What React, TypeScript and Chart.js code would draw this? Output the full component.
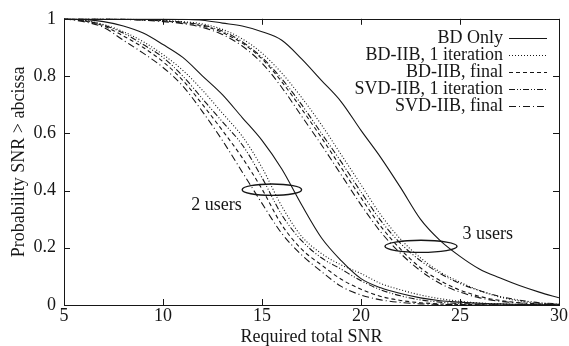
import React, { useEffect, useRef } from "react";
import { Chart, registerables } from "chart.js";

Chart.register(...registerables);

// Required total SNR (x)
const snrValues = [5, 6, 7, 8, 9, 10, 11, 12, 13, 14, 15, 16, 17, 18, 19, 20, 21, 22, 23, 24, 25, 26, 27, 28, 29, 30];

// 2 users
const bdOnly2 = [1, 0.998, 0.99, 0.975, 0.95, 0.91, 0.865, 0.8, 0.735, 0.655, 0.575, 0.475, 0.35, 0.235, 0.155, 0.092, 0.06, 0.04, 0.025, 0.015, 0.01, 0.006, 0.004, 0.002, 0.001, 0.0005];
const bdIibIter2 = [1, 0.995, 0.98, 0.955, 0.92, 0.875, 0.82, 0.75, 0.67, 0.59, 0.48, 0.345, 0.24, 0.18, 0.14, 0.11, 0.075, 0.053, 0.035, 0.022, 0.013, 0.007, 0.004, 0.002, 0.001, 0];
const bdIibFinal2 = [1, 0.993, 0.975, 0.94, 0.9, 0.85, 0.785, 0.7, 0.61, 0.515, 0.405, 0.28, 0.195, 0.14, 0.09, 0.055, 0.03, 0.016, 0.008, 0.004, 0.002, 0.001, 0, 0, 0, 0];
const svdIibIter2 = [1, 0.994, 0.978, 0.95, 0.91, 0.865, 0.8, 0.72, 0.64, 0.56, 0.445, 0.315, 0.225, 0.165, 0.125, 0.085, 0.053, 0.032, 0.018, 0.01, 0.005, 0.003, 0.001, 0, 0, 0];
const svdIibFinal2 = [1, 0.99, 0.97, 0.925, 0.88, 0.83, 0.765, 0.675, 0.575, 0.465, 0.355, 0.25, 0.175, 0.117, 0.065, 0.035, 0.018, 0.009, 0.004, 0.002, 0.001, 0, 0, 0, 0, 0];

// 3 users
const bdOnly3 = [1, 1, 1, 1, 1, 1, 0.998, 0.995, 0.985, 0.975, 0.955, 0.925, 0.86, 0.785, 0.71, 0.61, 0.515, 0.41, 0.3, 0.225, 0.17, 0.125, 0.095, 0.068, 0.045, 0.025];
const bdIibIter3 = [1, 1, 1, 0.999, 0.997, 0.994, 0.99, 0.982, 0.963, 0.93, 0.88, 0.81, 0.725, 0.63, 0.525, 0.42, 0.315, 0.23, 0.165, 0.115, 0.08, 0.05, 0.028, 0.014, 0.006, 0.003];
const bdIibFinal3 = [1, 1, 1, 0.999, 0.996, 0.992, 0.986, 0.975, 0.952, 0.915, 0.86, 0.78, 0.685, 0.585, 0.48, 0.375, 0.275, 0.195, 0.13, 0.085, 0.052, 0.03, 0.016, 0.008, 0.004, 0.002];
const svdIibIter3 = [1, 1, 1, 0.999, 0.996, 0.993, 0.988, 0.978, 0.957, 0.92, 0.865, 0.79, 0.7, 0.6, 0.5, 0.395, 0.295, 0.215, 0.155, 0.11, 0.075, 0.05, 0.03, 0.017, 0.008, 0.004];
const svdIibFinal3 = [1, 1, 1, 0.998, 0.995, 0.99, 0.983, 0.97, 0.945, 0.905, 0.845, 0.76, 0.66, 0.56, 0.455, 0.35, 0.255, 0.18, 0.12, 0.075, 0.045, 0.025, 0.013, 0.007, 0.003, 0.001];

const legendLabels = ["BD Only", "BD-IIB, 1 iteration", "BD-IIB, final", "SVD-IIB, 1 iteration", "SVD-IIB, final"];
const xTickValues = [5, 10, 15, 20, 25, 30];
const yTickValues = [0, 0.2, 0.4, 0.6, 0.8, 1];

// annotations: group labels and ellipses (data coordinates)
const groupLabelText = ["2 users", "3 users"];
const groupLabelX = [12.7, 26.4];
const groupLabelY = [0.35, 0.247];
const ellipseCenterX = [15.5, 23.03];
const ellipseCenterY = [0.403, 0.205];
const ellipseRadiusX = [1.5, 1.82];
const ellipseRadiusY = [0.02, 0.021];

const INK = "#161616";
const FONT = "'Liberation Serif', 'DejaVu Serif', serif";

const styles: { dash: number[] }[] = [
  { dash: [] },
  { dash: [1, 2] },
  { dash: [4, 3] },
  { dash: [6, 2, 1, 2, 1, 2] },
  { dash: [7, 3, 1, 3] },
];

const overlayPlugin = {
  id: "overlay",
  afterDatasetsDraw(chart: any) {
    const { ctx, chartArea, scales } = chart;
    const { left, right, top, bottom } = chartArea;
    const x = scales.x;
    const y = scales.y;
    ctx.save();
    ctx.strokeStyle = INK;
    ctx.lineWidth = 1;
    ctx.setLineDash([]);
    // frame
    ctx.strokeRect(Math.round(left) + 0.5, Math.round(top) + 0.5, Math.round(right - left), Math.round(bottom - top));
    // ticks (inward, mirrored)
    const tl = 6;
    ctx.beginPath();
    xTickValues.forEach((v) => {
      const px = Math.round(x.getPixelForValue(v)) + 0.5;
      ctx.moveTo(px, bottom);
      ctx.lineTo(px, bottom - tl);
      ctx.moveTo(px, top);
      ctx.lineTo(px, top + tl);
    });
    yTickValues.forEach((v) => {
      const py = Math.round(y.getPixelForValue(v)) + 0.5;
      ctx.moveTo(left, py);
      ctx.lineTo(left + tl, py);
      ctx.moveTo(right, py);
      ctx.lineTo(right - tl, py);
    });
    ctx.stroke();

    // ellipses
    ctx.lineWidth = 1.4;
    ellipseCenterX.forEach((cxv, i) => {
      const cx = x.getPixelForValue(cxv);
      const cy = y.getPixelForValue(ellipseCenterY[i]);
      const rx = x.getPixelForValue(cxv + ellipseRadiusX[i]) - cx;
      const ry = cy - y.getPixelForValue(ellipseCenterY[i] + ellipseRadiusY[i]);
      ctx.beginPath();
      ctx.ellipse(cx, cy, rx, ry, 0, 0, Math.PI * 2);
      ctx.stroke();
    });

    // group labels
    ctx.fillStyle = INK;
    ctx.font = `18px ${FONT}`;
    ctx.textAlign = "center";
    ctx.textBaseline = "middle";
    groupLabelText.forEach((t, i) => {
      ctx.fillText(t, x.getPixelForValue(groupLabelX[i]), y.getPixelForValue(groupLabelY[i]));
    });

    // legend (text right-aligned, sample on the right)
    const textRight = right - 56;
    const sampleStart = right - 50;
    const sampleEnd = right - 12;
    const rowTop = top + 19;
    const rowStep = 17;
    ctx.textAlign = "right";
    legendLabels.forEach((label, i) => {
      const ry = rowTop + i * rowStep;
      ctx.fillStyle = INK;
      ctx.fillText(label, textRight, ry);
      ctx.beginPath();
      ctx.lineWidth = 1;
      ctx.setLineDash(styles[i].dash);
      ctx.moveTo(sampleStart, Math.round(ry) + 0.5);
      ctx.lineTo(sampleEnd, Math.round(ry) + 0.5);
      ctx.stroke();
    });
    ctx.restore();
  },
};

function series(values: number[]) {
  return values.map((v, i) => ({ x: snrValues[i], y: v }));
}

export default function App() {
  const canvasRef = useRef<HTMLCanvasElement | null>(null);

  useEffect(() => {
    const canvas = canvasRef.current;
    if (!canvas) return;
    const groups = [
      [bdOnly2, bdIibIter2, bdIibFinal2, svdIibIter2, svdIibFinal2],
      [bdOnly3, bdIibIter3, bdIibFinal3, svdIibIter3, svdIibFinal3],
    ];
    const datasets: any[] = [];
    groups.forEach((g, gi) => {
      g.forEach((vals, si) => {
        datasets.push({
          label: legendLabels[si] + (gi === 0 ? " (2 users)" : " (3 users)"),
          data: series(vals),
          borderColor: INK,
          borderWidth: 1.1,
          borderDash: styles[si].dash,
          pointRadius: 0,
          fill: false,
          cubicInterpolationMode: "monotone",
        });
      });
    });

    const chart = new Chart(canvas, {
      type: "line",
      data: { datasets },
      plugins: [overlayPlugin],
      options: {
        animation: false,
        responsive: false,
        maintainAspectRatio: false,
        layout: { padding: { left: 0, right: 10, top: 13, bottom: 0 } },
        plugins: { legend: { display: false }, tooltip: { enabled: false } },
        scales: {
          x: {
            type: "linear",
            min: 5,
            max: 30,
            afterFit: (s: any) => {
              s.height = 41;
            },
            afterBuildTicks: (s: any) => {
              s.ticks = xTickValues.map((v) => ({ value: v }));
            },
            grid: { display: false, drawTicks: false },
            border: { display: false },
            ticks: {
              color: INK,
              font: { family: FONT, size: 18 },
              padding: 0,
              maxRotation: 0,
              callback: (v: any) => String(v),
            },
            title: {
              display: true,
              text: "Required total SNR",
              color: INK,
              font: { family: FONT, size: 18 },
              padding: { top: 0, bottom: -2 },
            },
          },
          y: {
            type: "linear",
            min: 0,
            max: 1,
            afterFit: (s: any) => {
              s.width = 64;
            },
            afterBuildTicks: (s: any) => {
              s.ticks = yTickValues.map((v) => ({ value: v }));
            },
            grid: { display: false, drawTicks: false },
            border: { display: false },
            ticks: {
              color: INK,
              font: { family: FONT, size: 18 },
              padding: 8,
              callback: (v: any) => String(v),
            },
            title: {
              display: true,
              text: "Probability SNR > abcissa",
              color: INK,
              font: { family: FONT, size: 18 },
              padding: { top: 8, bottom: 0 },
            },
          },
        },
      },
    });
    return () => chart.destroy();
  }, []);

  return (
    <div style={{ position: "fixed", left: 0, top: 0, width: 569, height: 346, background: "#fff" }}>
      <canvas ref={canvasRef} width={569} height={346} style={{ width: 569, height: 346, display: "block" }} />
    </div>
  );
}
